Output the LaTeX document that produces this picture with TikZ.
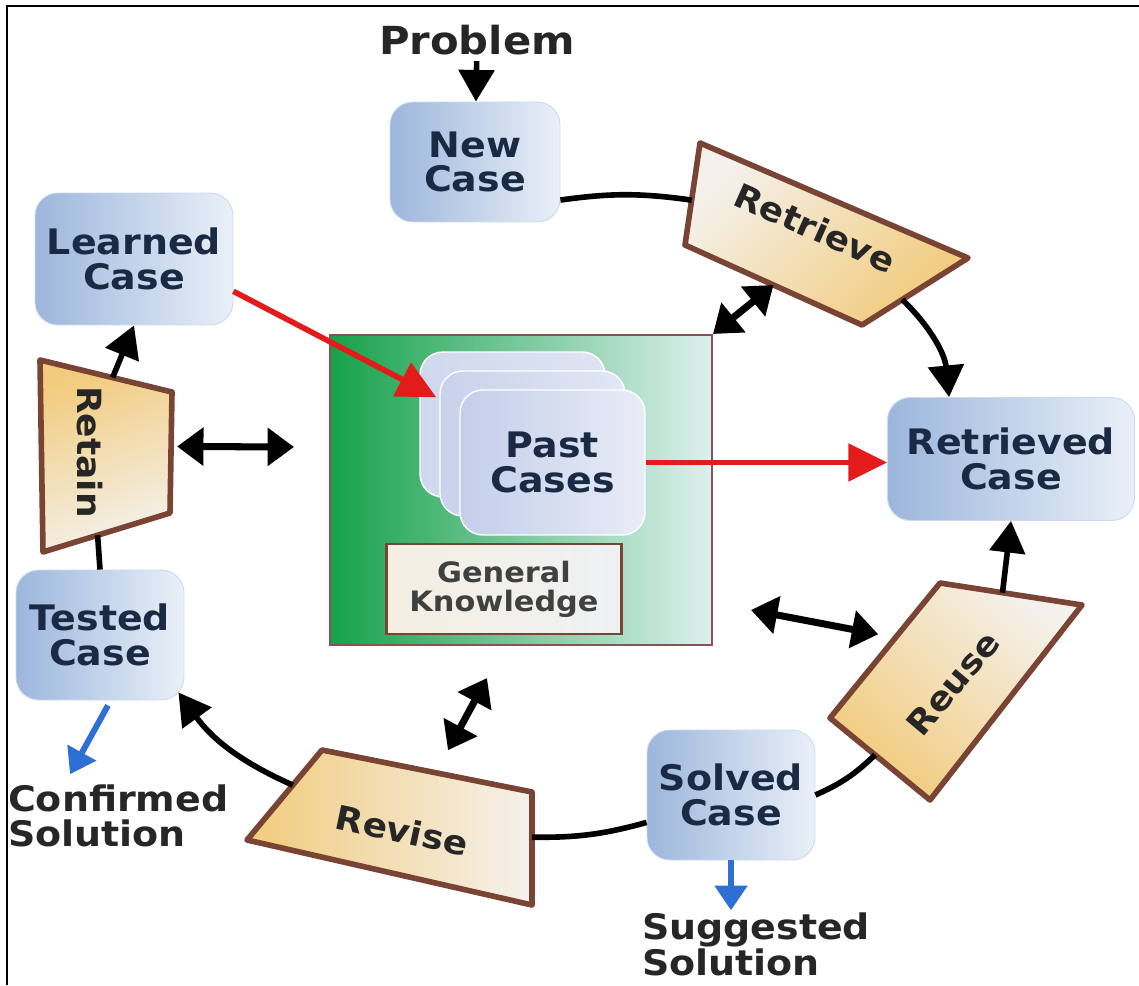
\documentclass[tikz,border=0pt]{standalone}
\usepackage{fontspec}
\setmainfont{DejaVu Sans}[FakeStretch=1.08]
\usetikzlibrary{arrows.meta,calc}

\definecolor{caseL}{HTML}{9CB6DC}
\definecolor{caseR}{HTML}{EAF0F8}
\definecolor{caseTxt}{HTML}{1A2A45}
\definecolor{cardA}{HTML}{D0D8EE}
\definecolor{cardB}{HTML}{DEE4F2}
\definecolor{cardC}{HTML}{C9D2EB}
\definecolor{cardD}{HTML}{E2E7F4}
\definecolor{cardE}{HTML}{C3CEE9}
\definecolor{cardF}{HTML}{E8ECF6}
\definecolor{genL}{HTML}{F5EFE2}
\definecolor{genR}{HTML}{EEF1F4}
\definecolor{trapLine}{HTML}{7A4434}
\definecolor{trapTan}{HTML}{F2CB7C}
\definecolor{trapPale}{HTML}{F4F1EC}
\definecolor{kGreen}{HTML}{16A24A}
\definecolor{kPale}{HTML}{DDF0EE}
\definecolor{kLine}{HTML}{8A5252}
\definecolor{redArr}{HTML}{E31B1B}
\definecolor{blueArr}{HTML}{2E6FD6}

\newcommand{\lblfont}{\fontsize{20}{19.5}\selectfont\bfseries}

\begin{document}
\begin{tikzpicture}[x=0.02cm,y=-0.02cm,
  case/.style={rounded corners=13pt,left color=caseL,right color=caseR,draw=caseL!50,
    line width=0.5pt,text=caseTxt,align=center,font=\lblfont,inner sep=0pt},
  card/.style={rounded corners=13pt,draw=white,line width=0.8pt,
    minimum width=3.7cm,minimum height=2.9cm,inner sep=0pt},
  trap/.style={draw=trapLine,line width=3.2pt,line join=round},
  lbl/.style={font=\fontsize{19}{19}\selectfont\bfseries,text=black!85},
  cyc/.style={line width=3.2pt},
  cycarr/.style={cyc,-{Triangle[length=18pt,width=20pt]}},
  dbl/.style={line width=4pt,{Triangle[length=15pt,width=21pt]}-{Triangle[length=15pt,width=21pt]}},
  redarr/.style={redArr,line width=3.2pt,-{Triangle[length=22pt,width=21pt]}},
  bluearr/.style={blueArr,line width=3.4pt,-{Triangle[length=14pt,width=18pt]}}]
  \useasboundingbox (0,0) rectangle (1139,985);
  \draw[line width=1.6pt] (7,985) -- (7,6) -- (1139,6);

  % knowledge base in the middle
  \node[draw=kLine,line width=1.2pt,left color=kGreen,right color=kPale,
    minimum width=7.64cm,minimum height=6.2cm] (knowledge) at (521,490) {};
  \node[card,left color=cardA,right color=cardB] (past1) at (512.5,424.5) {};
  \node[card,left color=cardC,right color=cardD] (past2) at ($(past1)+(20,19)$) {};
  \node[card,left color=cardE,right color=cardF,text=caseTxt,align=center,font=\lblfont]
    (past3) at ($(past2)+(20,19)$) {Past\\Cases};
  \node[draw=trapLine,line width=1.5pt,left color=genL,right color=genR,
    minimum width=4.7cm,minimum height=1.8cm,align=center,text=black!75,
    font=\fontsize{16}{16.5}\selectfont\bfseries] (genknow) at (504,589) {General\\Knowledge};

  % cases
  \node[lbl,font=\fontsize{22}{22}\selectfont\bfseries] (problem) at (477,40) {Problem};
  \node[case,minimum width=3.4cm,minimum height=2.4cm] (newcase) at (475,162) {New\\Case};
  \node[case,minimum width=3.96cm,minimum height=2.64cm] (learned) at (134,259) {Learned\\Case};
  \node[case,minimum width=4.94cm,minimum height=2.46cm] (retrieved) at (1011,459) {Retrieved\\Case};
  \node[case,minimum width=3.36cm,minimum height=2.6cm] (tested) at (100,635) {Tested\\Case};
  \node[case,minimum width=3.36cm,minimum height=2.6cm] (solved) at (731,795) {Solved\\Case};
  \node[lbl,anchor=west,align=left,inner sep=1pt,font=\lblfont] (confirmed) at (6,816) {Confirmed\\Solution};
  \node[lbl,anchor=west,align=left,inner sep=1pt,font=\lblfont] (suggested) at (640,944) {Suggested\\Solution};

  % the four steps
  \coordinate (rtv1) at (700,143); \coordinate (rtv2) at (968,258);
  \coordinate (rtv3) at (862,325); \coordinate (rtv4) at (685,245);
  \draw[trap,top color=trapPale,bottom color=trapTan,shading angle=45]
    (rtv1) -- (rtv2) -- (rtv3) -- (rtv4) -- cycle;
  \node[lbl,rotate=-24] (retrieve) at (815,228) {Retrieve};

  \coordinate (reu1) at (940,583); \coordinate (reu2) at (1082,605);
  \coordinate (reu3) at (930,800); \coordinate (reu4) at (830,718);
  \draw[trap,top color=trapPale,bottom color=trapTan,shading angle=-40]
    (reu1) -- (reu2) -- (reu3) -- (reu4) -- cycle;
  \node[lbl,rotate=50] (reuse) at (953,683) {Reuse};

  \coordinate (rev1) at (322,750); \coordinate (rev2) at (532,792);
  \coordinate (rev3) at (532,905); \coordinate (rev4) at (247,840);
  \draw[trap,left color=trapTan,right color=trapPale]
    (rev1) -- (rev2) -- (rev3) -- (rev4) -- cycle;
  \node[lbl,rotate=-12] (revise) at (402,830) {Revise};

  \coordinate (rtn1) at (40,360); \coordinate (rtn2) at (172,392);
  \coordinate (rtn3) at (170,513); \coordinate (rtn4) at (43,552);
  \draw[trap,top color=trapTan,bottom color=trapPale,shading angle=20]
    (rtn1) -- (rtn2) -- (rtn3) -- (rtn4) -- cycle;
  \node[lbl,rotate=-90] (retain) at (90,452) {Retain};

  % cycle
  \draw[cycarr] (problem) -- (newcase);
  \draw[cyc] (newcase.-24) to[bend left=8] ($(rtv1)!0.56!(rtv4)$);
  \draw[cycarr] ($(rtv2)!0.62!(rtv3)$) to[bend left=20] (retrieved.135);
  \draw[cycarr] ($(reu1)!0.44!(reu2)$) -- (retrieved.south);
  \draw[cyc] ($(reu4)!0.45!(reu3)$) to[bend left=10] (solved.east);
  \draw[cyc] (solved.198) to[bend left=8] ($(rev2)!0.4!(rev3)$);
  \draw[cycarr] ($(rev1)!0.39!(rev4)$) to[bend left=15] ($(tested.south east)+(-6,-8)$);
  \draw[cyc] (tested.north) -- ($(rtn4)!0.43!(rtn3)$);
  \draw[cycarr] ($(rtn1)!0.55!(rtn2)$) -- (learned.south);

  % to and from the knowledge base
  \draw[redarr] (learned.-18) -- ($(past1.north west)+(17,46)$);
  \draw[redarr] (past3.east) -- (past3.east -| retrieved.west);
  \draw[dbl] (knowledge.north east) -- ($(rtv4)!0.5!(rtv3)$);
  \draw[dbl] ($(rtn2)!0.45!(rtn3)+(6,0)$) -- ($(knowledge.west)+(-35,-43)$);
  \draw[dbl] ($(knowledge.east)+(38,120)$) -- ($(reu4)!0.62!(reu1)+(-20,0)$);
  \draw[dbl] ($(knowledge.south)+(-34,32)$) -- ($(rev1)!0.6!(rev2)+(0,-25)$);

  % solutions
  \draw[bluearr] ($(tested.south)+(8,5)$) -- ($(confirmed.north west)+(64,-9)$);
  \draw[bluearr] (solved.south) -- (solved.south |- suggested.north);
\end{tikzpicture}
\end{document}
